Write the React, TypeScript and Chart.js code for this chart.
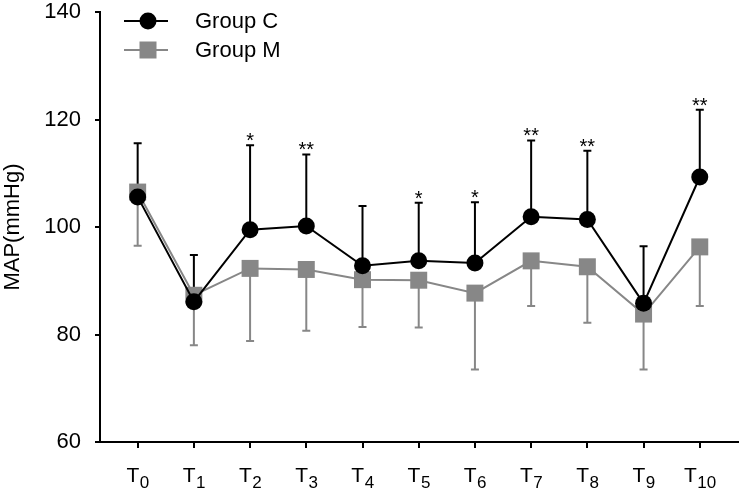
import React, { useEffect, useRef } from 'react';
import { Chart, registerables } from 'chart.js';

Chart.register(...registerables);

const timeSubs = ['0', '1', '2', '3', '4', '5', '6', '7', '8', '9', '10'];
const groupCMean = [105.6, 86.1, 99.5, 100.2, 92.8, 93.7, 93.3, 101.9, 101.4, 85.8, 109.3];
const groupCSD = [10.0, 8.7, 15.7, 13.3, 11.1, 10.8, 11.3, 14.2, 12.8, 10.6, 12.5];
const groupMMean = [106.5, 87.3, 92.3, 92.1, 90.2, 90.1, 87.7, 93.7, 92.6, 83.8, 96.3];
const groupMSD = [10.0, 9.3, 13.5, 11.4, 8.8, 8.8, 14.2, 8.4, 10.4, 10.3, 11.0];
const significance = ['', '', '*', '**', '', '*', '*', '**', '**', '', '**'];
const yTicks = [60, 80, 100, 120, 140];

const FONT = '"Liberation Sans", Arial, sans-serif';
const GRAY = '#878787';

const overlay = {
  id: 'overlay',
  beforeDatasetsDraw(chart: any) {
    const ctx = chart.ctx;
    const xs = chart.scales.x;
    const ys = chart.scales.y;
    ctx.save();
    ctx.lineWidth = 2;
    const cap = 4;
    ctx.strokeStyle = GRAY;
    groupMMean.forEach((m, i) => {
      const x = xs.getPixelForValue(i);
      const y0 = ys.getPixelForValue(m);
      const y1 = ys.getPixelForValue(m - groupMSD[i]);
      ctx.beginPath();
      ctx.moveTo(x, y0);
      ctx.lineTo(x, y1);
      ctx.moveTo(x - cap, y1);
      ctx.lineTo(x + cap, y1);
      ctx.stroke();
    });
    ctx.strokeStyle = '#000';
    groupCMean.forEach((m, i) => {
      const x = xs.getPixelForValue(i);
      const y0 = ys.getPixelForValue(m);
      const y1 = ys.getPixelForValue(m + groupCSD[i]);
      ctx.beginPath();
      ctx.moveTo(x, y0);
      ctx.lineTo(x, y1);
      ctx.moveTo(x - cap, y1);
      ctx.lineTo(x + cap, y1);
      ctx.stroke();
    });
    ctx.restore();
  },
  afterDraw(chart: any) {
    const ctx = chart.ctx;
    const xs = chart.scales.x;
    const ys = chart.scales.y;
    ctx.save();
    ctx.fillStyle = '#000';
    ctx.font = `20px ${FONT}`;
    ctx.textAlign = 'center';
    ctx.textBaseline = 'alphabetic';
    significance.forEach((s, i) => {
      if (!s) return;
      const x = xs.getPixelForValue(i);
      const y = ys.getPixelForValue(groupCMean[i] + groupCSD[i]);
      ctx.fillText(s, x, y + 2);
    });
    ctx.textAlign = 'left';
    timeSubs.forEach((sub, i) => {
      const x = xs.getPixelForValue(i);
      ctx.font = `21px ${FONT}`;
      const wT = ctx.measureText('T').width;
      ctx.font = `17px ${FONT}`;
      const wS = ctx.measureText(sub).width;
      const total = wT + wS;
      const left = x - total / 2;
      ctx.font = `21px ${FONT}`;
      ctx.fillText('T', left, 482);
      ctx.font = `17px ${FONT}`;
      ctx.fillText(sub, left + wT + 0.5, 488);
    });
    const legendItems = [
      { label: 'Group C', color: '#000', style: 'circle', y: 21 },
      { label: 'Group M', color: GRAY, style: 'rect', y: 50 },
    ];
    legendItems.forEach((it) => {
      ctx.strokeStyle = it.color;
      ctx.fillStyle = it.color;
      ctx.lineWidth = 2;
      ctx.beginPath();
      ctx.moveTo(124, it.y);
      ctx.lineTo(168, it.y);
      ctx.stroke();
      if (it.style === 'circle') {
        ctx.beginPath();
        ctx.arc(148, it.y, 8.5, 0, Math.PI * 2);
        ctx.fill();
      } else {
        ctx.fillRect(148 - 8.5, it.y - 8.5, 17, 17);
      }
      ctx.fillStyle = '#000';
      ctx.font = `22px ${FONT}`;
      ctx.textBaseline = 'middle';
      ctx.fillText(it.label, 195, it.y + 1);
      ctx.textBaseline = 'alphabetic';
    });
    ctx.restore();
  },
};

export default function App() {
  const ref = useRef<HTMLCanvasElement>(null);
  useEffect(() => {
    document.body.style.margin = '0';
    const chart = new Chart(ref.current as HTMLCanvasElement, {
      type: 'line',
      data: {
        datasets: [
          {
            label: 'Group C',
            data: groupCMean.map((v, i) => ({ x: i, y: v })),
            borderColor: '#000',
            backgroundColor: '#000',
            borderWidth: 2,
            pointStyle: 'circle',
            pointRadius: 8.5,
            pointBorderWidth: 0,
            pointHoverRadius: 8.5,
            clip: false as any,
          },
          {
            label: 'Group M',
            data: groupMMean.map((v, i) => ({ x: i, y: v })),
            borderColor: GRAY,
            backgroundColor: GRAY,
            borderWidth: 2,
            pointStyle: 'rect',
            pointRadius: 12,
            pointBorderWidth: 0,
            pointHoverRadius: 12,
            clip: false as any,
          },
        ],
      },
      options: {
        animation: false,
        responsive: false,
        layout: { padding: { top: 0, right: 4, left: 0, bottom: 0 } },
        plugins: { legend: { display: false }, tooltip: { enabled: false } },
        scales: {
          x: {
            type: 'linear',
            min: -0.67,
            max: 10.68,
            afterBuildTicks: (axis: any) => {
              axis.ticks = timeSubs.map((_, i) => ({ value: i }));
            },
            afterFit: (axis: any) => {
              axis.height = 50;
              axis.paddingLeft = 0;
              axis.paddingRight = 0;
            },
            ticks: { display: false },
            grid: {
              drawOnChartArea: false,
              drawTicks: true,
              tickLength: 6,
              color: '#000',
              lineWidth: 2,
            },
            border: { display: true, color: '#000', width: 2 },
          },
          y: {
            type: 'linear',
            min: 60,
            max: 140,
            afterBuildTicks: (axis: any) => {
              axis.ticks = yTicks.map((v) => ({ value: v }));
            },
            afterFit: (axis: any) => {
              axis.width = 100;
              axis.paddingTop = 12;
              axis.paddingBottom = 0;
            },
            ticks: {
              color: '#000',
              font: { size: 22, family: FONT },
              padding: 14,
            },
            title: {
              display: true,
              text: 'MAP(mmHg)',
              color: '#000',
              font: { size: 22, family: FONT },
              padding: { top: 0, bottom: 0 },
            },
            grid: {
              drawOnChartArea: false,
              drawTicks: true,
              tickLength: 5,
              color: '#000',
              lineWidth: 2,
            },
            border: { display: true, color: '#000', width: 2 },
          },
        },
      },
      plugins: [overlay],
    });
    return () => chart.destroy();
  }, []);
  return (
    <div style={{ width: 750, height: 492 }}>
      <canvas ref={ref} width={750} height={492} style={{ display: 'block' }} />
    </div>
  );
}
